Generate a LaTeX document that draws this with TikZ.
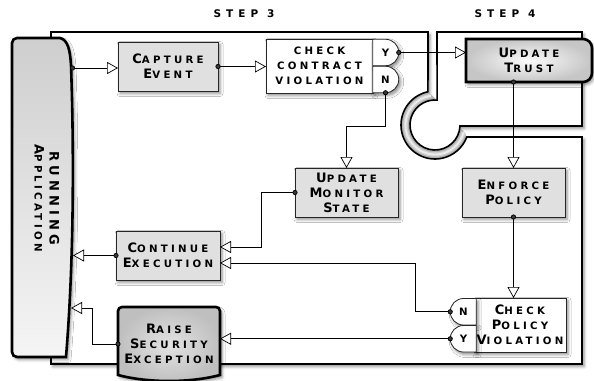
\documentclass[tikz,border=0pt]{standalone}
\usepackage{fontspec}
\setmainfont{DejaVu Sans}
\newfontfamily\lblfont{DejaVu Sans}[LetterSpace=32]
\newfontfamily\stepfont{DejaVu Sans}[LetterSpace=48]
\usetikzlibrary{arrows.meta,shadows.blur,shapes.misc,calc}
\newcommand\Ini[1]{{\fontsize{13}{15}\selectfont #1}}
\begin{document}
\begin{tikzpicture}[x=1pt,y=-1pt,
  every node/.style={inner sep=0pt,outer sep=0pt},
  shad/.style={blur shadow={shadow xshift=2pt,shadow yshift=-2.5pt,shadow blur radius=3pt,shadow opacity=45}},
  txt/.style={font=\lblfont\bfseries\fontsize{10.2}{15}\selectfont,align=center,text=black},
  flatbox/.style={txt,rectangle,draw=black!85,line width=0.8pt,fill=gray!24,shad},
  whitebox/.style={txt,rectangle,draw=black!85,line width=0.8pt,fill=white,shad},
  tabR/.style={txt,rounded rectangle,rounded rectangle west arc=none,draw=black!85,line width=0.8pt,fill=white,shad,minimum width=25pt,minimum height=26.5pt},
  tabL/.style={txt,rounded rectangle,rounded rectangle east arc=none,draw=black!85,line width=0.8pt,fill=white,shad,minimum width=21pt,minimum height=26.5pt},
  thick/.style={draw=black,line width=2.6pt,shad},
  frame/.style={draw=black,line width=1.6pt},
  conn/.style={line width=0.7pt,shorten <=-2.5pt,{Circle[length=5pt]}-{Triangle[fill=white,length=11pt,width=12pt]}},
  steplbl/.style={font=\stepfont\bfseries\fontsize{10.5}{12}\selectfont}]
\useasboundingbox (0,0) rectangle (594,380);
\coordinate (cc) at (435,125);
% frames: white fills with shadow
\path[fill=white,shad] (51,364) -- (51,32) -- (428,32) -- ($(cc)+(258:34)$) arc[start angle=258,end angle=20.6,radius=34] -- (582,137) -- (582,364) -- cycle;
\path[fill=white,shad] (437,32) -- (582,32) -- (582,126) -- ($(cc)+(2.3:25)$) arc[start angle=2.3,end angle=274.8,radius=25] -- cycle;
% tube band
\fill[gray!62] ($(cc)+(258:34)$) arc[start angle=258,end angle=20.6,radius=34] -- ($(cc)+(2.3:25)$) arc[start angle=2.3,end angle=274.8,radius=25] -- cycle;
\draw[gray!38,line width=4.5pt] ($(cc)+(262:29.5)$) arc[start angle=262,end angle=14,radius=29.5];
\draw[gray!15,line width=1.8pt] ($(cc)+(262:29.5)$) arc[start angle=262,end angle=14,radius=29.5];
\path[frame] (51,364) -- (51,32) -- (428,32) -- ($(cc)+(258:34)$) arc[start angle=258,end angle=20.6,radius=34] -- (582,137) -- (582,364) -- cycle;
\path[frame] (437,32) -- (582,32) -- (582,126) -- ($(cc)+(2.3:25)$) arc[start angle=2.3,end angle=274.8,radius=25] -- cycle;
% step labels
\node[steplbl] (s3) at (244,13.5) {STEP 3};
\node[steplbl] (s4) at (505,13.5) {STEP 4};
% running application
\path[thick,top color=gray!38,bottom color=gray!8] (12,43) arc[start angle=180,end angle=270,radius=5] -- (60,38) .. controls (68,40) and (70,50) .. (71,65) .. controls (74,150) and (74,260) .. (66,357) -- (17,357) arc[start angle=90,end angle=180,radius=5] -- cycle;
\node[txt,rotate=-90,align=center,anchor=center] (app) at (47,198) {\Ini{RUNNING}\\\Ini{A}PPLICATION};
\coordinate (appA) at (72.5,68);
\coordinate (appB) at (73,255);
\coordinate (appC) at (71,308);
% update trust
\path[thick,inner color=gray!3,outer color=gray!45] (466,82) -- (466,39) -- (583,39) arc[start angle=270,end angle=360,radius=9] -- (592,73) arc[start angle=0,end angle=90,radius=9] -- cycle;
\node[txt,minimum width=126pt,minimum height=43pt] (trust) at (529,60.5) {\Ini{U}PDATE\\\Ini{T}RUST};
% raise security exception
\path[thick,inner color=gray!22,outer color=gray!50] (118,375) -- (118,311) arc[start angle=180,end angle=270,radius=4] -- (216,307) arc[start angle=270,end angle=360,radius=4] -- (220,375) .. controls (190,383) and (148,383) .. cycle;
\node[txt,minimum width=102pt,minimum height=69pt] (raise) at (169,344) {\Ini{R}AISE\\\Ini{S}ECURITY\\\Ini{E}XCEPTION};
% flat boxes
\node[flatbox,minimum width=100pt,minimum height=49pt] (cap) at (168,66.5) {\Ini{C}APTURE\\\Ini{E}VENT};
\node[whitebox,minimum width=107pt,minimum height=54pt] (ccv) at (319.5,66) {CHECK\\CONTRACT\\VIOLATION};
\node[tabR] (y1) at (385.5,52.5) {Y};
\node[tabR] (n1) at (385.5,79.5) {N};
\node[flatbox,minimum width=103pt,minimum height=49pt] (monitor) at (346.5,192.5) {\Ini{U}PDATE\\\Ini{M}ONITOR\\\Ini{S}TATE};
\node[flatbox,minimum width=103pt,minimum height=49pt] (enforce) at (513.5,192.5) {\Ini{E}NFORCE\\\Ini{P}OLICY};
\node[flatbox,minimum width=104pt,minimum height=49pt] (cont) at (168,255.5) {\Ini{C}ONTINUE\\\Ini{E}XECUTION};
\node[whitebox,minimum width=92pt,minimum height=54pt] (cpv) at (520,325) {\Ini{C}HECK\\\Ini{P}OLICY\\\Ini{V}IOLATION};
\node[tabL] (n2) at (463.5,311.75) {N};
\node[tabL] (y2) at (463.5,338.75) {Y};
% connectors
\draw[conn] (appA) -- (appA -| cap.west);
\draw[conn] (cap.east) -- (cap.east -| ccv.west);
\draw[conn] (y1.east) -- (y1.east -| trust.west);
\draw[conn] (enforce.north |- trust.south) -- (enforce.north);
\draw[conn] (n1.south) -- ++(0,34) -| (monitor.north);
\draw[conn] (monitor.west) -- ++(-34,0) |- ($(cont.east)+(0,-8.5)$);
\draw[conn] (cont.west) -- (cont.west -| appB);
\draw[conn] (enforce.south) -- (enforce.south |- cpv.north);
\draw[conn] (n2.west) -- ++(-35,0) |- ($(cont.east)+(0,7.5)$);
\draw[conn] (y2.west) -- (y2.west -| raise.east);
\draw[conn] (raise.west) -- ++(-26,0) |- (appC);
\end{tikzpicture}
\end{document}
